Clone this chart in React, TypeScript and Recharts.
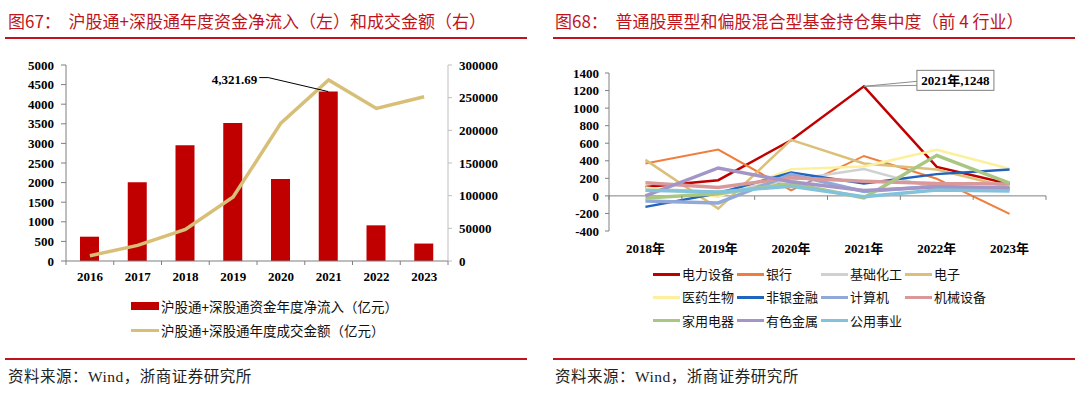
import React from 'react';
import { ComposedChart, LineChart, Bar, Line, XAxis, YAxis, ReferenceLine, LabelList } from 'recharts';

// ---------- Left chart data ----------
const years = ['2016', '2017', '2018', '2019', '2020', '2021', '2022', '2023'];
const netInflow = [620, 2010, 2950, 3520, 2095, 4321.69, 910, 445];
const turnover = [8100, 23900, 48300, 98000, 211000, 277000, 233500, 251500];
const leftTicks = [0, 500, 1000, 1500, 2000, 2500, 3000, 3500, 4000, 4500, 5000];
const rightTicks = [0, 50000, 100000, 150000, 200000, 250000, 300000];
const inflowName = '沪股通+深股通资金年度净流入（亿元）';
const turnoverName = '沪股通+深股通年度成交金额（亿元）';

// ---------- Right chart data ----------
const fundYears = ['2018年', '2019年', '2020年', '2021年', '2022年', '2023年'];
const powerEquip = [102, 179, 634, 1248, 330, 135];
const banks = [369, 528, 62, 455, 195, -205];
const basicChem = [85, 45, 180, 305, 80, 65];
const electronics = [410, -145, 638, 370, 300, 95];
const pharma = [95, -10, 305, 335, 525, 310];
const nonBankFin = [-125, 30, 265, 140, 248, 300];
const computers = [-57, -80, 245, 50, 110, 80];
const machinery = [150, 95, 208, 168, 140, 135];
const appliances = [-25, 25, 140, -22, 462, 145];
const metals = [0, 318, 160, 62, 100, 90];
const utilities = [65, 45, 110, -10, 68, 55];
const fundTicks = [-400, -200, 0, 200, 400, 600, 800, 1000, 1200, 1400];

const seriesDefs = [
  { key: 's0', name: '电力设备', color: '#C00000', width: 2.5, values: powerEquip },
  { key: 's1', name: '银行', color: '#F07D3C', width: 2, values: banks },
  { key: 's2', name: '基础化工', color: '#D0D0D0', width: 2.5, values: basicChem },
  { key: 's3', name: '电子', color: '#DCBF78', width: 2.5, values: electronics },
  { key: 's4', name: '医药生物', color: '#FCF09C', width: 2.5, values: pharma },
  { key: 's5', name: '非银金融', color: '#1F64BE', width: 2.5, values: nonBankFin },
  { key: 's6', name: '计算机', color: '#91A9D8', width: 3.5, values: computers },
  { key: 's7', name: '机械设备', color: '#D9999A', width: 3.5, values: machinery },
  { key: 's8', name: '家用电器', color: '#AAC683', width: 3.5, values: appliances },
  { key: 's9', name: '有色金属', color: '#A396C6', width: 3.5, values: metals },
  { key: 's10', name: '公用事业', color: '#82C3DB', width: 3.5, values: utilities },
];

const leftData = years.map((y, i) => ({ year: y, inflow: netInflow[i], turnover: turnover[i] }));
const rightData = fundYears.map((y, i) => {
  const row: any = { year: y };
  seriesDefs.forEach((s) => (row[s.key] = s.values[i]));
  return row;
});

const RED = '#C0141C';
const NUM_FONT = "'Liberation Serif', 'Noto Sans CJK SC', serif";
const CJK_FONT = "'Noto Sans CJK SC', sans-serif";
const tickStyle = { fill: '#000', fontSize: 13, fontWeight: 700, fontFamily: NUM_FONT };

// layout constants (styling)
const L_W = 540, L_H = 290, L_M = { top: 65, right: 22, bottom: 0, left: 0 }, L_YW = 66, L_YRW = 70;
const L_BW = (L_W - L_M.left - L_M.right - L_YW - L_YRW) / years.length;
const R_W = 540, R_H = 260, R_M = { top: 73, right: 34, bottom: 0, left: 0 }, R_YW = 69, R_XH = 29;
const R_BW = (R_W - R_M.left - R_M.right - R_YW) / fundYears.length;
const R_PH = R_H - R_M.top - R_M.bottom - R_XH;
const R_ZERO_SHIFT = (R_PH * 400) / 1800;

const LeftXTick = (props: any) => {
  const { x, y, payload, index } = props;
  const last = index === years.length - 1;
  return (
    <g>
      <line x1={x - L_BW / 2} y1={y} x2={x - L_BW / 2} y2={y + 4} stroke="#7f7f7f" />
      {last && <line x1={x + L_BW / 2} y1={y} x2={x + L_BW / 2} y2={y + 4} stroke="#7f7f7f" />}
      <text x={x} y={y + 20} textAnchor="middle" {...tickStyle}>{payload.value}</text>
    </g>
  );
};

const RightXTick = (props: any) => {
  const { x, y, payload, index } = props;
  const zy = y - R_ZERO_SHIFT;
  const last = index === fundYears.length - 1;
  return (
    <g>
      <line x1={x - R_BW / 2} y1={zy} x2={x - R_BW / 2} y2={zy + 4} stroke="#808080" />
      {last && <line x1={x + R_BW / 2} y1={zy} x2={x + R_BW / 2} y2={zy + 4} stroke="#808080" />}
      <text x={x} y={y + 22} textAnchor="middle" {...tickStyle}>{payload.value}</text>
    </g>
  );
};

const BarCallout = (props: any) => {
  const { x, y, width, value } = props;
  if (value !== 4321.69) return null;
  const cx = x + width / 2;
  return (
    <g>
      <polyline points={`${cx - 69},${y - 14} ${cx - 60},${y - 14} ${cx},${y}`} fill="none" stroke="#000" strokeWidth={1} />
      <text x={cx - 71} y={y - 8} textAnchor="end" {...tickStyle}>4,321.69</text>
    </g>
  );
};

const PeakCallout = (props: any) => {
  const { x, y, value, index } = props;
  if (value !== 1248) return null;
  const bx = x + 53;
  return (
    <g>
      <line x1={x} y1={y} x2={bx} y2={y - 5} stroke="#8c8c8c" />
      <line x1={x} y1={y} x2={bx} y2={y - 1} stroke="#8c8c8c" />
      <rect x={bx} y={y - 16} width={77} height={20} fill="#fff" stroke="#7f7f7f" />
      <text x={bx + 38.5} y={y - 1.5} textAnchor="middle" {...tickStyle}>{`${fundYears[index]},${value}`}</text>
    </g>
  );
};

const abs = (s: React.CSSProperties): React.CSSProperties => ({ position: 'absolute', ...s });

export default function App() {
  return (
    <div style={{ position: 'absolute', left: 0, top: 0, width: 1080, height: 394, background: '#fff', overflow: 'hidden' }}>
      {/* titles */}
      <div style={abs({ left: 8, top: 9, fontFamily: CJK_FONT, fontSize: 17, color: RED, whiteSpace: 'pre', lineHeight: '24px' })}>
        {'图67：  沪股通+深股通年度资金净流入（左）和成交金额（右）'}
      </div>
      <div style={abs({ left: 5, top: 37, width: 522, height: 1.5, background: RED })} />
      <div style={abs({ left: 555, top: 9, fontFamily: CJK_FONT, fontSize: 17, color: RED, whiteSpace: 'pre', lineHeight: '24px' })}>
        {'图68：  普通股票型和偏股混合型基金持仓集中度（前 4 行业）'}
      </div>
      <div style={abs({ left: 553, top: 37, width: 522, height: 1.5, background: RED })} />

      {/* left chart */}
      <div style={abs({ left: 0, top: 0 })}>
        <ComposedChart width={L_W} height={L_H} data={leftData} margin={L_M}>
          <XAxis dataKey="year" height={29} tickSize={0} tickMargin={0} tickLine={false} axisLine={{ stroke: '#7f7f7f' }} tick={<LeftXTick />} interval={0} />
          <YAxis yAxisId="left" width={L_YW} domain={[0, 5000]} ticks={leftTicks} interval={0} axisLine={{ stroke: '#7f7f7f' }} tickLine={{ stroke: '#7f7f7f' }} tickSize={5} tickMargin={7} tick={tickStyle} />
          <YAxis yAxisId="right" orientation="right" width={L_YRW} domain={[0, 300000]} ticks={rightTicks} interval={0} axisLine={{ stroke: '#BFBFBF' }} tickLine={{ stroke: '#BFBFBF' }} tickSize={4} tickMargin={7} tick={tickStyle} />
          <Bar yAxisId="left" dataKey="inflow" name={inflowName} fill="#C00000" barSize={19} isAnimationActive={false}>
            <LabelList dataKey="inflow" content={<BarCallout />} />
          </Bar>
          <Line yAxisId="right" type="linear" dataKey="turnover" name={turnoverName} stroke="#D8BF78" strokeWidth={3.5} dot={false} isAnimationActive={false} />
        </ComposedChart>
      </div>

      {/* left legend */}
      <div style={abs({ left: 131, top: 302, width: 28, height: 8, background: '#C00000' })} />
      <div style={abs({ left: 161, top: 296, fontFamily: CJK_FONT, fontSize: 13.5, lineHeight: '20px', color: '#111' })}>{inflowName}</div>
      <div style={abs({ left: 131, top: 329, width: 28, height: 3, background: '#D8BF78' })} />
      <div style={abs({ left: 161, top: 320, fontFamily: CJK_FONT, fontSize: 13.5, lineHeight: '20px', color: '#111' })}>{turnoverName}</div>

      {/* right chart */}
      <div style={abs({ left: 540, top: 0 })}>
        <LineChart width={R_W} height={R_H} data={rightData} margin={R_M}>
          <XAxis dataKey="year" scale="band" height={R_XH} tickSize={0} tickMargin={0} tickLine={false} axisLine={false} tick={<RightXTick />} interval={0} />
          <YAxis width={R_YW} domain={[-400, 1400]} ticks={fundTicks} interval={0} axisLine={{ stroke: '#808080' }} tickLine={{ stroke: '#808080' }} tickSize={4} tickMargin={6} tick={tickStyle} />
          <ReferenceLine y={0} stroke="#808080" />
          {seriesDefs.map((s) => (
            <Line key={s.key} type="linear" dataKey={s.key} name={s.name} stroke={s.color} strokeWidth={s.width} dot={false} isAnimationActive={false}>
              {s.key === 's0' && <LabelList dataKey={s.key} content={<PeakCallout />} />}
            </Line>
          ))}
        </LineChart>
      </div>

      {/* right legend */}
      {seriesDefs.map((s, i) => {
        const col = i % 4;
        const row = Math.floor(i / 4);
        const lx = 653 + col * 84;
        const cy = 274 + row * 23.3;
        return (
          <React.Fragment key={s.key}>
            <div style={abs({ left: lx, top: cy - 1.5, width: 27, height: 3, background: s.color })} />
            <div style={abs({ left: lx + 29, top: cy - 10, fontFamily: CJK_FONT, fontSize: 13, lineHeight: '20px', color: '#111', whiteSpace: 'nowrap' })}>{s.name}</div>
          </React.Fragment>
        );
      })}

      {/* footers */}
      <div style={abs({ left: 5, top: 358, width: 522, height: 1.5, background: RED })} />
      <div style={abs({ left: 8, top: 366, fontFamily: NUM_FONT, fontSize: 15.5, lineHeight: '22px', color: '#222', letterSpacing: 0.5 })}>资料来源：Wind，浙商证券研究所</div>
      <div style={abs({ left: 553, top: 358, width: 522, height: 1.5, background: RED })} />
      <div style={abs({ left: 555, top: 366, fontFamily: NUM_FONT, fontSize: 15.5, lineHeight: '22px', color: '#222', letterSpacing: 0.5 })}>资料来源：Wind，浙商证券研究所</div>
    </div>
  );
}
